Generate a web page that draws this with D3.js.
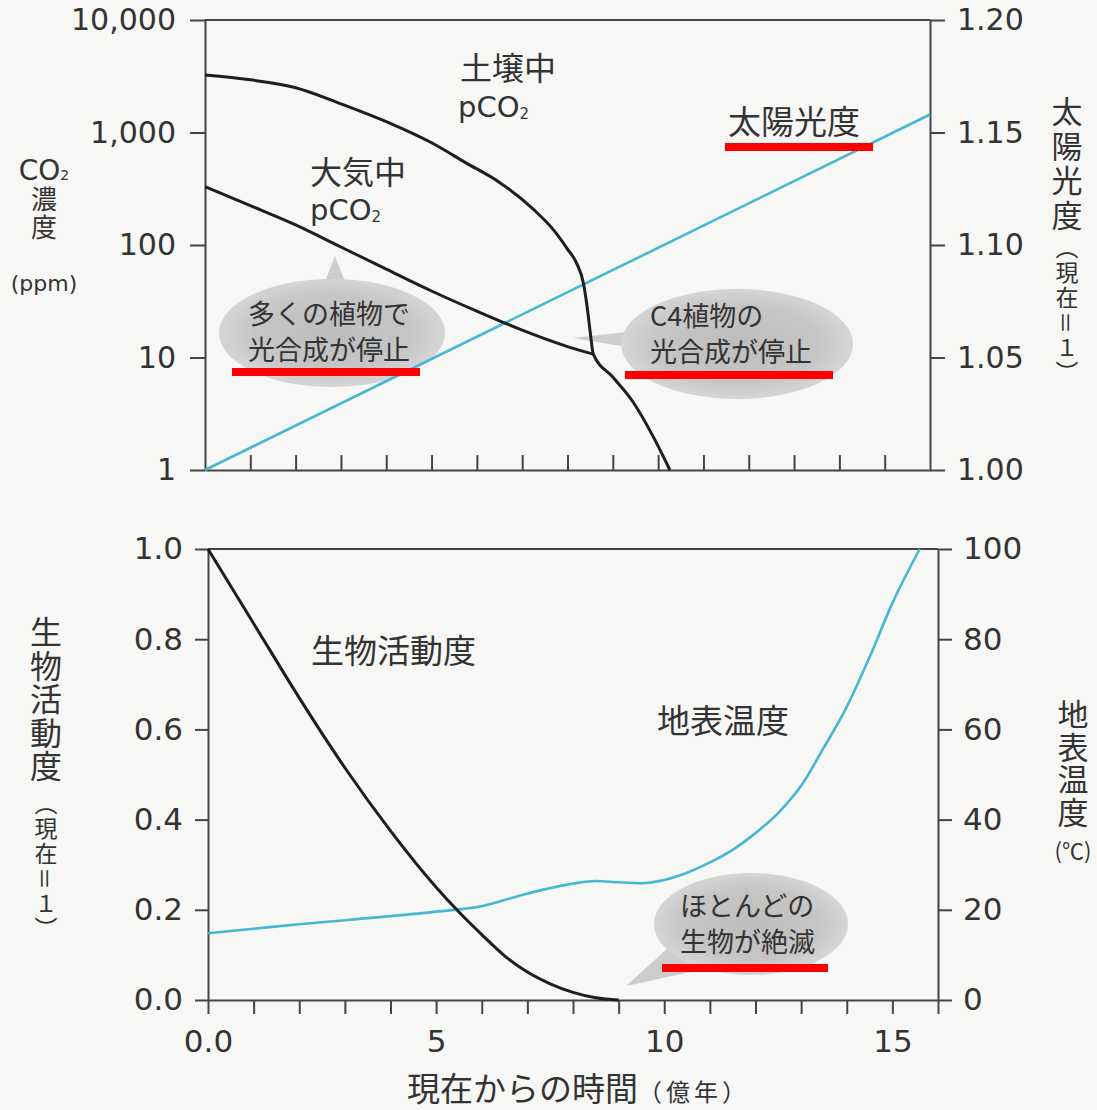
<!DOCTYPE html>
<html>
<head>
<meta charset="utf-8">
<script src="https://cdn.jsdelivr.net/npm/d3@7"></script>
<style>
  body { margin: 0; background: #f7f7f5; }
  svg { display: block; }
</style>
</head>
<body>
<div id="chart"></div>
<script>
// ---- data (time in 100 Myr from now) ----
const soilT = [0, 1, 2, 3, 4, 5, 5.75, 6.5, 7.25, 7.7, 8, 8.2, 8.35, 8.44, 8.5, 8.57, 9, 9.45, 9.9, 10.26];
const soilV = [3250, 2940, 2500, 1800, 1250, 810, 540, 360, 207, 135, 92, 69, 46, 27, 17, 10.7, 6.7, 4.0, 1.95, 1.0];

const atmT = [0, 1, 2, 3, 4, 5, 6, 7, 8, 8.57];
const atmV = [330, 224, 151, 96, 61, 39, 25.8, 17.5, 12.5, 10.7];

const sunT = [0, 16];
const sunV = [1.0, 1.158];

const bioT = [0, 1, 2, 3, 4, 5, 5.5, 6, 6.5, 7, 7.5, 8, 8.5, 9];
const bioV = [1.0, 0.835, 0.67, 0.515, 0.375, 0.25, 0.195, 0.145, 0.098, 0.062, 0.036, 0.017, 0.005, 0];

const tempT = [0, 1, 2, 3, 4, 5, 6, 7, 8, 8.5, 9, 9.5, 10, 10.5, 11, 11.5, 12, 12.5, 13, 13.5, 14, 14.5, 15, 15.6];
const tempV = [14.8, 15.8, 16.8, 17.7, 18.6, 19.6, 20.8, 23.6, 25.8, 26.4, 26.1, 25.9, 26.6, 28.2, 30.5, 33.3, 37, 41.5, 47.5, 56, 65, 76, 88, 100];

const co2Ticks = [1, 10, 100, 1000, 10000];
const sunTicks = [1.00, 1.05, 1.10, 1.15, 1.20];
const bioTicks = [0, 0.2, 0.4, 0.6, 0.8, 1.0];
const tempTicks = [0, 20, 40, 60, 80, 100];
const timeLabels = [0, 5, 10, 15];

const W = 1097, H = 1110;
const numFont = "DejaVu Sans";
const jpFont = "'Noto Sans CJK JP'";
const ink = "#333";
const axisColor = "#444";
const blue = "#45b6d4";

const svg = d3.select("#chart").append("svg")
  .attr("width", W).attr("height", H)
  .style("background", "#f7f7f5");

const defs = svg.append("defs");
const grad = defs.append("radialGradient").attr("id", "bubble");
grad.append("stop").attr("offset", "0%").attr("stop-color", "#bdbdbd");
grad.append("stop").attr("offset", "70%").attr("stop-color", "#c6c6c6");
grad.append("stop").attr("offset", "100%").attr("stop-color", "#d5d5d5");

// ---- scales ----
const xTop = d3.scaleLinear().domain([0, 16]).range([205, 930]);
const yCO2 = d3.scaleLog().domain([1, 10000]).range([470, 20]);
const ySun = d3.scaleLinear().domain([1.0, 1.2]).range([470, 20]);

const xBot = d3.scaleLinear().domain([0, 16]).range([208, 938]);
const yBio = d3.scaleLinear().domain([0, 1]).range([1000, 549]);
const yTemp = d3.scaleLinear().domain([0, 100]).range([1000, 549]);

function styleAxis(g, size) {
  g.attr("color", axisColor);
  g.select(".domain").attr("stroke-width", 2);
  g.selectAll(".tick line").attr("stroke-width", 2);
  g.selectAll(".tick text")
    .attr("font-family", numFont)
    .attr("font-size", size)
    .attr("fill", ink);
}

// ---- top panel axes ----
svg.append("line")
  .attr("x1", xTop(0)).attr("x2", xTop(16))
  .attr("y1", yCO2(10000)).attr("y2", yCO2(10000))
  .attr("stroke", axisColor).attr("stroke-width", 2);

svg.append("g")
  .attr("transform", `translate(${xTop(0)},0)`)
  .call(d3.axisLeft(yCO2).tickValues(co2Ticks).tickFormat(d3.format(","))
    .tickSize(15).tickSizeOuter(0).tickPadding(14))
  .call(g => styleAxis(g, 30));

svg.append("g")
  .attr("transform", `translate(${xTop(16)},0)`)
  .call(d3.axisRight(ySun).tickValues(sunTicks).tickFormat(d3.format(".2f"))
    .tickSize(15).tickSizeOuter(0).tickPadding(12))
  .call(g => styleAxis(g, 30));

svg.append("g")
  .attr("transform", `translate(0,${yCO2(1)})`)
  .call(d3.axisTop(xTop).tickValues(d3.range(1, 16)).tickFormat("")
    .tickSize(15).tickSizeOuter(0))
  .call(g => styleAxis(g, 30));

// ---- bottom panel axes ----
svg.append("line")
  .attr("x1", xBot(0)).attr("x2", xBot(16))
  .attr("y1", yBio(1)).attr("y2", yBio(1))
  .attr("stroke", axisColor).attr("stroke-width", 2);

svg.append("g")
  .attr("transform", `translate(${xBot(0)},0)`)
  .call(d3.axisLeft(yBio).tickValues(bioTicks).tickFormat(d3.format(".1f"))
    .tickSize(13).tickSizeOuter(0).tickPadding(12))
  .call(g => styleAxis(g, 31));

svg.append("g")
  .attr("transform", `translate(${xBot(16)},0)`)
  .call(d3.axisRight(yTemp).tickValues(tempTicks)
    .tickSize(14).tickSizeOuter(0).tickPadding(11))
  .call(g => styleAxis(g, 31));

svg.append("g")
  .attr("transform", `translate(0,${yBio(0)})`)
  .call(d3.axisBottom(xBot).tickValues(d3.range(0, 17))
    .tickFormat(d => timeLabels.includes(d) ? (d === 0 ? "0.0" : d) : "")
    .tickSize(14).tickSizeOuter(0).tickPadding(16))
  .call(g => styleAxis(g, 31));

// ---- bubbles (drawn under the curves) ----
function bubble(cx, cy, rx, ry, tail) {
  const g = svg.append("g");
  g.append("path").attr("d", d3.line()(tail) + "Z").attr("fill", "#cdcdcd");
  g.append("ellipse")
    .attr("cx", cx).attr("cy", cy).attr("rx", rx).attr("ry", ry)
    .attr("fill", "url(#bubble)");
}
bubble(332, 333, 113, 54, [[324, 284], [335, 256], [346, 284]]);
bubble(737, 344, 116, 55, [[646, 330], [573, 338], [646, 350]]);
bubble(751, 924, 97, 51, [[668, 948], [626, 986], [700, 970]]);

// ---- curves ----
const lineTop = d3.line().x(d => xTop(d[0])).curve(d3.curveMonotoneX);

svg.append("path")
  .attr("d", lineTop.y(d => ySun(d[1]))(d3.zip(sunT, sunV)))
  .attr("fill", "none").attr("stroke", blue).attr("stroke-width", 2.6);

svg.append("path")
  .attr("d", lineTop.y(d => yCO2(d[1]))(d3.zip(soilT, soilV)))
  .attr("fill", "none").attr("stroke", "#1e1e1e").attr("stroke-width", 3);

svg.append("path")
  .attr("d", lineTop.y(d => yCO2(d[1]))(d3.zip(atmT, atmV)))
  .attr("fill", "none").attr("stroke", "#1e1e1e").attr("stroke-width", 3);

const lineBot = d3.line().x(d => xBot(d[0])).curve(d3.curveMonotoneX);

svg.append("path")
  .attr("d", lineBot.y(d => yTemp(d[1]))(d3.zip(tempT, tempV)))
  .attr("fill", "none").attr("stroke", blue).attr("stroke-width", 2.6);

svg.append("path")
  .attr("d", lineBot.y(d => yBio(d[1]))(d3.zip(bioT, bioV)))
  .attr("fill", "none").attr("stroke", "#1e1e1e").attr("stroke-width", 3);

// ---- text helpers ----
function label(x, y, txt, size, anchor = "start", family = jpFont) {
  return svg.append("text")
    .attr("x", x).attr("y", y)
    .attr("text-anchor", anchor)
    .attr("font-family", family)
    .attr("font-size", size)
    .attr("fill", ink)
    .text(txt);
}

function pco2(x, y) {
  const t = label(x, y, "pCO", 29, "start", numFont);
  t.append("tspan").attr("font-size", 15).attr("dy", 2).text("2");
}

// vertical Japanese text, top at y
function vText(txt, x, y, size, spacing) {
  return svg.append("text")
    .attr("x", x).attr("y", y)
    .attr("writing-mode", "vertical-rl")
    .attr("font-family", jpFont)
    .attr("font-size", size)
    .attr("letter-spacing", spacing)
    .attr("fill", ink)
    .text(txt);
}

function underline(x1, x2, y) {
  svg.append("rect")
    .attr("x", x1).attr("y", y - 4)
    .attr("width", x2 - x1).attr("height", 8)
    .attr("fill", "#ff0000");
}

// ---- top panel labels ----
label(460, 80, "土壌中", 32);
pco2(458, 117);
label(310, 184, "大気中", 32);
pco2(310, 220);
label(728, 134, "太陽光度", 33);
underline(725, 873, 147);

label(329, 324, "多くの植物で", 27, "middle");
label(329, 360, "光合成が停止", 27, "middle");
underline(232, 420, 372);

label(650, 326, "C4植物の", 27);
label(650, 362, "光合成が停止", 27);
underline(625, 833, 375);

// left title (top)
const co2 = label(44, 180, "CO", 28, "middle", numFont);
co2.append("tspan").attr("font-size", 14).attr("dy", 0).text("2");
vText("濃度", 44, 186, 26, 2);
label(44, 291, "(ppm)", 22, "middle", numFont);

// right title (top)
vText("太陽光度", 1067, 96, 31, 3.5);
vText("（現在＝１）", 1067, 236, 23, 2);

// ---- bottom panel labels ----
label(311, 663, "生物活動度", 33);
label(657, 733, "地表温度", 33);

label(680, 916, "ほとんどの", 27);
label(680, 952, "生物が絶滅", 27);
underline(662, 828, 968);

vText("生物活動度", 46, 616, 32, 1.5);
vText("（現在＝１）", 46, 792, 23, 2);

vText("地表温度", 1073, 699, 31, 1.5);
label(1073, 859, "(℃)", 22, "middle");

// x axis title
const xt = label(407, 1101, "現在からの時間", 33);
xt.append("tspan").attr("font-size", 24).attr("letter-spacing", 4).text("（億年）");
</script>
</body>
</html>
